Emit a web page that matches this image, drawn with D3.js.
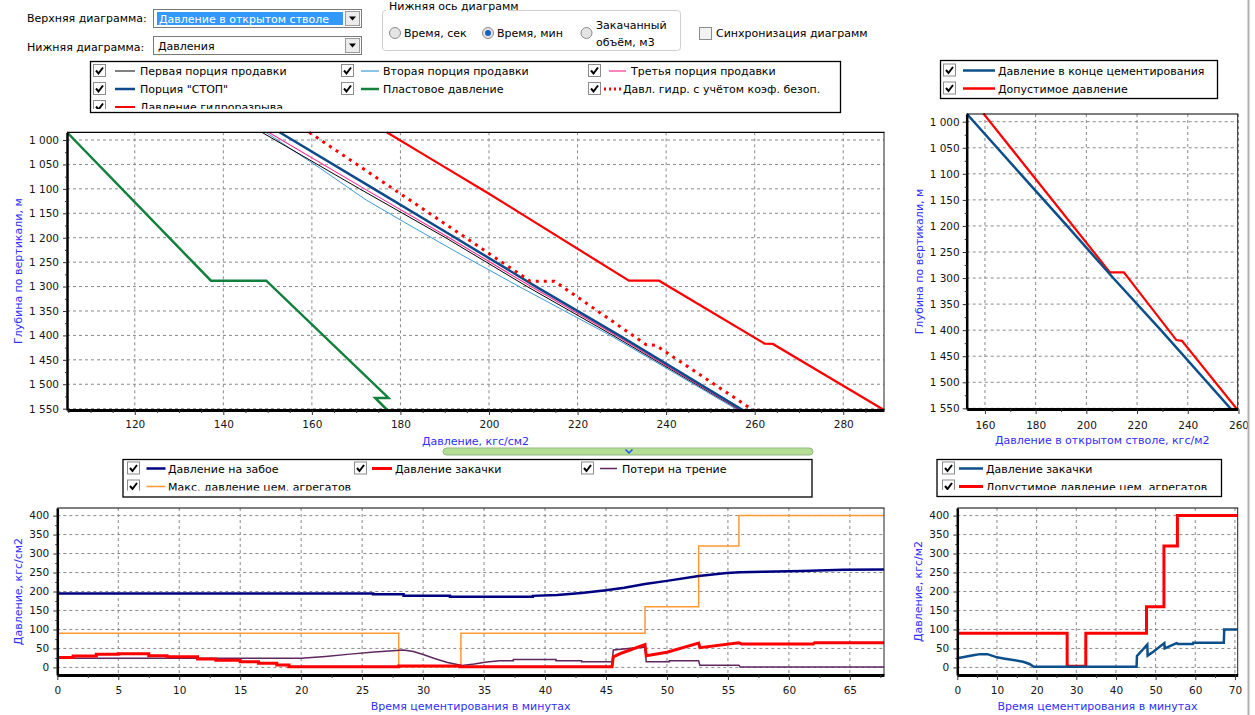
<!DOCTYPE html>
<html><head><meta charset="utf-8">
<script src="https://cdn.jsdelivr.net/npm/d3@7"></script>
<style>
body{margin:0;background:#fff;}
svg{display:block;font-family:"DejaVu Sans",sans-serif;}
</style></head><body>
<svg id="c" width="1255" height="715"></svg>
<script>
// ---------------- DATA ----------------
// top charts: [pressure kgf/cm2, depth m]
const depthTicks = [1000,1050,1100,1150,1200,1250,1300,1350,1400,1450,1500,1550];
const depthMinor = [1025,1075,1125,1175,1225,1275,1325,1375,1425,1475,1525];
const pressTicksTop = [120,140,160,180,200,220,240,260,280];
const pressMinorTop = [105,110,115,125,130,135,145,150,155,165,170,175,185,190,195,205,210,215,225,230,235,245,250,255,265,270,275,285];
const pressTicksRight = [160,180,200,220,240,260];
const pressMinorRight = [170,190,210,230,250];

const firstPortion  = [[148.7,984.2],[170.8,1100],[190.2,1200],[208.6,1300],[228.0,1400],[256.6,1552.7]];
const secondPortion = [[149.6,984.2],[161.9,1058],[172.3,1123],[181.2,1170],[192.8,1230],[206.8,1300],[227.4,1400],[256.2,1552.7]];
const thirdPortion  = [[150.2,984.2],[171.9,1100],[191.0,1200],[209.5,1300],[228.7,1400],[256.8,1552.7]];
const stopPortion   = [[152.7,984.2],[174.0,1100],[192.4,1200],[210.6,1300],[229.4,1400],[257.3,1552.7]];
const reservoirPressure = [[104.7,984.2],[137.2,1288],[149.7,1288],[177.3,1528],[174.3,1528],[177.0,1552.7]];
const allowablePressure = [[159.4,984.2],[209.3,1289],[214.8,1289],[235.5,1419],[237.7,1420.5],[259.6,1552.7]];
const fracPressure = [[176.9,984.2],[186.7,1037.5],[200,1110],[231.6,1288],[238.4,1288],[262.2,1416.7],[264.1,1417.5],[289.2,1552.7]];

// bottom charts: [time min, pressure]
const pressTicksBottom = [0,50,100,150,200,250,300,350,400];
const pressMinorBottom = [25,75,125,175,225,275,325,375];
const timeTicksLeft = [0,5,10,15,20,25,30,35,40,45,50,55,60,65];
const timeMinorLeft = [2.5,7.5,12.5,17.5,22.5,27.5,32.5,37.5,42.5,47.5,52.5,57.5,62.5,67.5];
const timeTicksRight = [0,10,20,30,40,50,60,70];
const timeMinorRight = [5,15,25,35,45,55,65];

const bottomholeP = [[0,195],[25.9,195],[25.9,192.5],[28.4,192.5],[28.4,189],[32.2,189],[32.2,186],[39,186],[39,188.5],[41,191],[43,196],[45,203],[46.5,210],[48.2,220],[50,228],[52.6,241],[54.9,248.5],[56,250.5],[57.9,252],[61,254],[64.5,257.5],[67.8,258]];
const injectionP = [[0,26.4],[1.3,26.4],[1.3,30],[3.2,30],[3.2,34.5],[5,34.5],[5,36.2],[7.5,36.2],[7.5,30.9],[9,30.9],[9,28.3],[11.5,28.3],[11.5,22.2],[13,22.2],[13,18.7],[15,18.7],[15,15.2],[16.5,15.2],[16.5,10.8],[18,10.8],[18,6.4],[19,6.4],[19,1.5],[28,1.5],[28,3.5],[33,3.5],[33,2],[45.5,2],[45.6,28],[46.3,38],[48.2,60],[48.3,31],[50,40],[52.6,64],[52.7,52],[55.9,65],[56.1,62],[62,62],[62.1,65],[67.8,65]];
const frictionLoss = [[0,24],[20,24],[22,29],[24,35],[26,40.5],[28.4,46],[29.2,42],[30,34],[31,23],[32,13],[33.2,5],[34.2,9],[35.2,14],[36.3,17.5],[37.4,17.5],[37.4,21],[40.9,21],[40.9,17.5],[43,17.5],[43,15],[45.5,15],[45.6,46],[48.2,54],[48.3,15],[50.2,15],[50.2,17.5],[52.6,17.5],[52.7,6],[55.9,6],[56,1],[67.8,1]];
const maxUnitP = [[0,90],[28,90],[28,2],[33.1,2],[33.1,90],[48.2,90],[48.2,160],[52.6,160],[52.6,320],[55.9,320],[55.9,400],[67.8,400]];

const injectionP2 = [[0,24],[2,28],[4,32],[5.7,35],[7.6,35],[10,26.5],[12,23],[14.1,19.5],[16.6,15],[18.2,9],[19.3,1.5],[45.2,1.5],[45.3,30],[47.9,60],[48.0,31],[49.5,42],[52.2,64],[52.3,50],[55.3,64],[55.6,62],[59.4,62],[59.5,65],[67.2,65],[67.3,100],[70.7,100]];
const allowableUnitP = [[0,90],[27.7,90],[27.7,3],[32.4,3],[32.4,90],[47.7,90],[47.7,160],[52.1,160],[52.1,320],[55.5,320],[55.5,400],[70.7,400]];

// ---------------- DRAW ----------------
const svg = d3.select("#c");
const fmtDepth = d3.formatLocale({decimal:",",thousands:"\u00a0",grouping:[3],currency:["",""]}).format(",.0f");
const fmtNum = d3.format("d");
const TITLE = "#3030ff";
let clipId = 0;

function chart(o){
  const g = svg.append("g");
  const L = o.x.range()[0], R = o.x.range()[1];
  const T = Math.min(...o.y.range()), B = Math.max(...o.y.range());
  g.append("g").selectAll("line").data(o.xTicks).join("line")
    .attr("x1",d=>o.x(d)).attr("x2",d=>o.x(d)).attr("y1",T).attr("y2",B)
    .attr("stroke","#8a8a8a").attr("stroke-dasharray","3,3");
  g.append("g").selectAll("line").data(o.yTicks).join("line")
    .attr("y1",d=>o.y(d)).attr("y2",d=>o.y(d)).attr("x1",L).attr("x2",R)
    .attr("stroke","#8a8a8a").attr("stroke-dasharray","3,3");
  const id = "clip"+(clipId++);
  svg.append("clipPath").attr("id",id).append("rect")
    .attr("x",L).attr("y",T-1).attr("width",R-L+1).attr("height",B-T+2);
  const sg = g.append("g").attr("clip-path",`url(#${id})`);
  const line = d3.line().x(d=>o.x(d[0])).y(d=>o.y(d[1]));
  o.series.forEach(s=>{
    sg.append("path").datum(s.data).attr("d",line).attr("fill","none")
      .attr("stroke",s.color).attr("stroke-width",s.w)
      .attr("stroke-dasharray",s.dash||null).attr("stroke-linejoin","miter");
  });
  g.append("line").attr("x1",L).attr("x2",R+0.5).attr("y1",T).attr("y2",T).attr("stroke","#000").attr("stroke-width",1.2);
  g.append("line").attr("x1",R).attr("x2",R).attr("y1",T).attr("y2",B).attr("stroke","#222").attr("stroke-width",1);
  const xa = g.append("g").attr("transform",`translate(0,${B})`)
    .call(d3.axisBottom(o.x).tickValues(o.xTicks).tickFormat(o.xFmt).tickSize(5).tickPadding(o.xPad).tickSizeOuter(0));
  const xm = g.append("g").attr("transform",`translate(0,${B})`)
    .call(d3.axisBottom(o.x).tickValues(o.xMinor).tickFormat("").tickSize(3).tickSizeOuter(0));
  xm.select(".domain").remove();
  const ya = g.append("g").attr("transform",`translate(${L},0)`)
    .call(d3.axisLeft(o.y).tickValues(o.yTicks).tickFormat(o.yFmt).tickSize(4).tickPadding(o.yPad).tickSizeOuter(0));
  const ym = g.append("g").attr("transform",`translate(${L},0)`)
    .call(d3.axisLeft(o.y).tickValues(o.yMinor).tickFormat("").tickSize(2).tickSizeOuter(0));
  ym.select(".domain").remove();
  xa.select(".domain").attr("stroke","#000").attr("stroke-width",3);
  ya.select(".domain").attr("stroke","#000").attr("stroke-width",2.5);
  [xa,ya,xm,ym].forEach(a=>{
    a.selectAll(".tick line").attr("stroke","#333");
    a.selectAll("text").attr("font-family","DejaVu Sans").attr("font-size","10.5px").attr("fill","#151515");
  });
  g.append("text").attr("x",(L+R)/2).attr("y",o.xTitleY).attr("text-anchor","middle")
    .attr("font-size","11px").attr("fill",TITLE).text(o.xTitle);
  g.append("text").attr("transform",`translate(${o.yTitleX},${(T+B)/2}) rotate(-90)`)
    .attr("text-anchor","middle").attr("dominant-baseline","central")
    .attr("font-size","11px").attr("fill",TITLE).text(o.yTitle);
}

const xTL = d3.scaleLinear([104.7,289.2],[67,884]);
const yTL = d3.scaleLinear([984.2,1552.7],[132.3,410]);
const xTR = d3.scaleLinear([152.8,259.7],[966.7,1237.7]);
const yTR = d3.scaleLinear([985.2,1551.3],[114,409]);
const xBL = d3.scaleLinear([0,67.8],[57.3,884]);
const yBL = d3.scaleLinear([-20,420],[675,508]);
const xBR = d3.scaleLinear([0,70.7],[957.3,1237.7]);
const yBR = d3.scaleLinear([-20,420],[675,508]);

const C = {black:"#000000", lblue:"#3b9ad8", pink:"#ff2e97", stop:"#0e4a8a", green:"#13803e",
  red:"#ff0000", navy:"#000080", purple:"#5e275e", orange:"#ff9933", blue2:"#0c4f8a"};

chart({x:xTL,y:yTL,xTicks:pressTicksTop,xMinor:pressMinorTop,yTicks:depthTicks,yMinor:depthMinor,
  xFmt:fmtNum,yFmt:fmtDepth,xPad:6,yPad:4,xTitle:"Давление, кгс/см2",xTitleY:445,
  yTitle:"Глубина по вертикали, м",yTitleX:18,
  series:[
    {data:reservoirPressure,color:C.green,w:2.5},
    {data:fracPressure,color:C.red,w:2.2},
    {data:secondPortion,color:C.lblue,w:1},
    {data:firstPortion,color:C.black,w:1},
    {data:thirdPortion,color:C.pink,w:1.1},
    {data:stopPortion,color:C.stop,w:2.5},
    {data:allowablePressure,color:C.red,w:3,dash:"3,5"}
  ]});

chart({x:xTR,y:yTR,xTicks:pressTicksRight,xMinor:pressMinorRight,yTicks:depthTicks,yMinor:depthMinor,
  xFmt:fmtNum,yFmt:fmtDepth,xPad:8,yPad:3,xTitle:"Давление в открытом стволе, кгс/м2",xTitleY:444,
  yTitle:"Глубина по вертикали, м",yTitleX:919,
  series:[
    {data:allowablePressure,color:C.red,w:2.2},
    {data:stopPortion,color:C.blue2,w:2.5}
  ]});

chart({x:xBL,y:yBL,xTicks:timeTicksLeft,xMinor:timeMinorLeft,yTicks:pressTicksBottom,yMinor:pressMinorBottom,
  xFmt:fmtNum,yFmt:fmtNum,xPad:7,yPad:4,xTitle:"Время цементирования в минутах",xTitleY:710,
  yTitle:"Давление, кгс/см2",yTitleX:18,
  series:[
    {data:maxUnitP,color:C.orange,w:1.5},
    {data:frictionLoss,color:C.purple,w:1.5},
    {data:injectionP,color:C.red,w:3},
    {data:bottomholeP,color:C.navy,w:2.5}
  ]});

chart({x:xBR,y:yBR,xTicks:timeTicksRight,xMinor:timeMinorRight,yTicks:pressTicksBottom,yMinor:pressMinorBottom,
  xFmt:fmtNum,yFmt:fmtNum,xPad:7,yPad:4,xTitle:"Время цементирования в минутах",xTitleY:710,
  yTitle:"Давление, кгс/м2",yTitleX:918,
  series:[
    {data:allowableUnitP,color:C.red,w:3},
    {data:injectionP2,color:C.blue2,w:2.5}
  ]});

// ---------------- LEGENDS ----------------
function checkbox(g,x,y){
  g.append("rect").attr("x",x+0.5).attr("y",y-6.5).attr("width",12).attr("height",12)
    .attr("fill","#fff").attr("stroke","#8c8c8c");
  g.append("path").attr("d",`M${x+3},${y-0.5} L${x+5.5},${y+2.5} L${x+10},${y-3.5}`)
    .attr("fill","none").attr("stroke","#000").attr("stroke-width",2);
}
function legend(box,items){
  const id = "lc"+(clipId++);
  svg.append("clipPath").attr("id",id).append("rect")
    .attr("x",box.x).attr("y",box.y).attr("width",box.w).attr("height",box.h-box.cut);
  const g = svg.append("g");
  g.append("rect").attr("x",box.x+0.5).attr("y",box.y+0.5).attr("width",box.w).attr("height",box.h)
    .attr("fill","#fff").attr("stroke","none");
  const ig = g.append("g").attr("clip-path",`url(#${id})`);
  items.forEach(it=>{
    checkbox(ig,it.cx,it.y);
    ig.append("line").attr("x1",it.l1).attr("x2",it.l2).attr("y1",it.y).attr("y2",it.y)
      .attr("stroke",it.color).attr("stroke-width",it.w).attr("stroke-dasharray",it.dash||null);
    ig.append("text").attr("x",it.tx).attr("y",it.y+4).attr("font-size","11px").attr("fill","#000").text(it.label);
  });
  g.append("rect").attr("x",box.x+0.5).attr("y",box.y+0.5).attr("width",box.w).attr("height",box.h)
    .attr("fill","none").attr("stroke","#000").attr("stroke-width",1.3);
}
const col = (cx,l1,l2,tx)=>({cx,l1,l2,tx});
const c1=col(93,115,135,140), c2=col(341,361,379,383), c3=col(588,609,626,631);
legend({x:90,y:61,w:750,h:51,cut:3},[
  {...c1,y:71,color:C.black,w:1,label:"Первая порция продавки"},
  {...c2,y:71,color:C.lblue,w:1.2,label:"Вторая порция продавки"},
  {...c3,y:71,color:C.pink,w:1.2,label:"Третья порция продавки"},
  {...c1,y:89,color:C.stop,w:2.5,label:"Порция \"СТОП\""},
  {...c2,y:89,color:C.green,w:2.5,label:"Пластовое давление"},
  {cx:588,l1:604,l2:622,tx:623,y:89,color:C.red,w:3,dash:"2,3",label:"Давл. гидр. с учётом коэф. безоп."},
  {...c1,y:107,color:C.red,w:2,label:"Давление гидроразрыва"}
]);
legend({x:940,y:60,w:277,h:38,cut:0},[
  {cx:943,l1:963,l2:995,tx:998,y:70.5,color:C.blue2,w:2.5,label:"Давление в конце цементирования"},
  {cx:943,l1:963,l2:995,tx:998,y:88.5,color:C.red,w:2.5,label:"Допустимое давление"}
]);
legend({x:122.5,y:459,w:689,h:37.5,cut:6},[
  {cx:127,l1:146.5,l2:165.5,tx:168,y:468.5,color:C.navy,w:2.5,label:"Давление на забое"},
  {cx:354,l1:372,l2:392,tx:395,y:468.5,color:C.red,w:3,label:"Давление закачки"},
  {cx:581,l1:600,l2:617,tx:622,y:468.5,color:C.purple,w:1.5,label:"Потери на трение"},
  {cx:127,l1:146.5,l2:165.5,tx:168,y:486.5,color:C.orange,w:1.5,label:"Макс. давление цем. агрегатов"}
]);
legend({x:936.5,y:459,w:284.5,h:37,cut:6},[
  {cx:942,l1:959,l2:983,tx:986,y:468.5,color:C.blue2,w:2.5,label:"Давление закачки"},
  {cx:942,l1:959,l2:983,tx:986,y:486.5,color:C.red,w:3,label:"Допустимое давление цем. агрегатов"}
]);

// ---------------- CONTROLS ----------------
const ui = svg.append("g").attr("font-size","11px");
ui.append("text").attr("x",27).attr("y",22).text("Верхняя диаграмма:");
ui.append("text").attr("x",27).attr("y",50.5).text("Нижняя диаграмма:");
function combo(y,txt,sel){
  ui.append("rect").attr("x",153.5).attr("y",y+0.5).attr("width",208).attr("height",18).attr("fill","#fff").attr("stroke","#7a7a7a");
  if(sel){
    ui.append("rect").attr("x",157).attr("y",y+3).attr("width",186).attr("height",13).attr("fill","#3399ff");
    ui.append("text").attr("x",159).attr("y",y+13.5).attr("fill","#fff").text(txt);
  } else {
    ui.append("text").attr("x",158).attr("y",y+14).attr("fill","#000").text(txt);
  }
  ui.append("rect").attr("x",345.5).attr("y",y+2.5).attr("width",14).attr("height",14).attr("fill","#ececec").attr("stroke","#9a9a9a");
  ui.append("path").attr("d",`M${349},${y+7.5} L${356},${y+7.5} L${352.5},${y+11.5} Z`).attr("fill","#000");
}
combo(9,"Давление в открытом стволе",true);
combo(36,"Давления",false);
ui.append("rect").attr("x",382.5).attr("y",10.5).attr("width",298).attr("height",40).attr("rx",3)
  .attr("fill","none").attr("stroke","#cfcfcf");
ui.append("rect").attr("x",386).attr("y",2).attr("width",122).attr("height",12).attr("fill","#fff");
ui.append("text").attr("x",389).attr("y",9.5).text("Нижняя ось диаграмм");
function radio(cx,on){
  ui.append("circle").attr("cx",cx).attr("cy",33).attr("r",5.5).attr("fill","#e4e4e4").attr("stroke","#8c8c8c");
  if(on) ui.append("circle").attr("cx",cx).attr("cy",33).attr("r",3).attr("fill","#1c5fc4");
}
radio(395,false); radio(488,true); radio(586.5,false);
ui.append("text").attr("x",404).attr("y",37).text("Время, сек");
ui.append("text").attr("x",497).attr("y",37).text("Время, мин");
ui.append("text").attr("x",596).attr("y",28.5).text("Закачанный");
ui.append("text").attr("x",596).attr("y",45.5).text("объём, м3");
ui.append("rect").attr("x",699.5).attr("y",27.5).attr("width",12).attr("height",12).attr("fill","#f2f2f2").attr("stroke","#8c8c8c");
ui.append("text").attr("x",716).attr("y",37).text("Синхронизация диаграмм");

svg.append("rect").attr("x",443).attr("y",448).attr("width",370).attr("height",7).attr("rx",3.5)
  .attr("fill","#b4de94").attr("stroke","#93b983");
svg.append("path").attr("d","M625.5,449.5 L629,453 L632.5,449.5").attr("fill","none").attr("stroke","#2050ff").attr("stroke-width",1.5);
svg.append("line").attr("x1",1248.5).attr("x2",1248.5).attr("y1",0).attr("y2",715).attr("stroke","#b0b0b0").attr("stroke-width",2);
</script>
</body></html>
